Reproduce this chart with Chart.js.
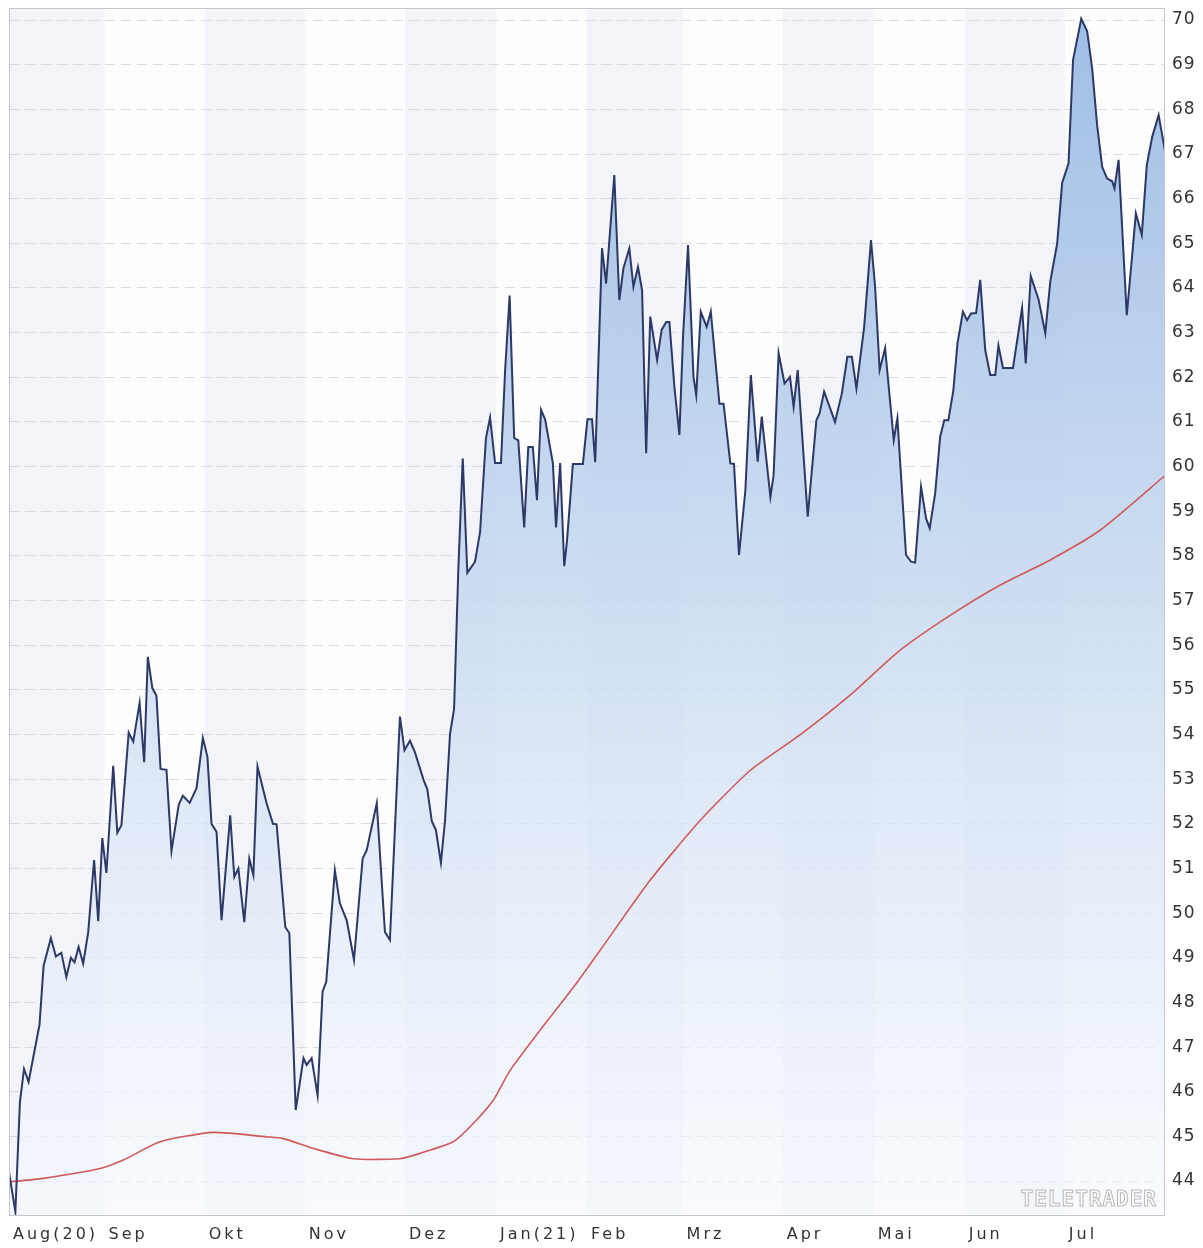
<!DOCTYPE html>
<html lang="de">
<head>
    <meta charset="UTF-8">
    <title>Kursverlauf Aug(20) - Jul(21)</title>
    <style>
        body {
            margin: 0;
            padding: 0;
            background-color: #ffffff;
        }

        canvas {
            display: block;
        }
    </style>
</head>
<body>
    <canvas id="priceChart" width="1203" height="1248" style="width:1203px;height:1248px"></canvas>

    <script src="https://cdn.jsdelivr.net/npm/chart.js@4"></script>
    <script>
        // x values are trading days counted from the first day in August 2020
        const monthStarts = [0, 21, 43, 65, 87, 107, 127, 148, 170, 190, 210, 232];
        const monthLabels = ['Aug(20)', 'Sep', 'Okt', 'Nov', 'Dez', 'Jan(21)', 'Feb', 'Mrz', 'Apr', 'Mai', 'Jun', 'Jul'];
        const lastDay = 254;

        const priceDays = [
            0, 1.4, 2.4, 3.3, 4.3, 6.7, 7.6, 9.2, 10.3, 11.5,
            12.6, 13.6, 14.4, 15.3, 16.3, 17.4, 18.7, 19.6, 20.5, 21.4,
            22.9, 23.8, 24.7, 26.3, 27.3, 28.7, 29.7, 30.5, 31.5, 32.4,
            33.3, 34.6, 35.7, 37.3, 38.2, 39.7, 41.2, 42.6, 43.6, 44.5,
            45.6, 46.7, 48.6, 49.5, 50.4, 51.7, 52.8, 53.7, 54.6, 56.6,
            58.0, 58.8, 60.7, 61.6, 63.0, 64.7, 65.4, 66.5, 67.8, 68.9,
            69.7, 71.6, 72.7, 74.2, 75.8, 77.7, 78.6, 80.8, 82.6, 83.7,
            85.9, 86.9, 88.1, 89.2, 91.1, 91.9, 92.9, 93.8, 94.9, 95.8,
            96.9, 97.8, 98.7, 99.7, 100.7, 102.4, 103.5, 104.8, 105.7, 106.8,
            108.1, 109.0, 110.0, 111.0, 111.9, 113.2, 114.1, 115.1, 116.0, 116.9,
            117.8, 119.5, 120.2, 121.1, 122.0, 122.6, 123.9, 126.1, 127.1, 128.1,
            128.8, 130.3, 131.2, 133.0, 134.1, 135.0, 136.3, 137.2, 138.2, 139.1,
            140.0, 140.9, 142.4, 143.4, 144.4, 145.1, 146.2, 147.3, 148.1, 149.2,
            150.4, 151.0, 152.0, 153.3, 154.2, 156.1, 157.0, 158.5, 159.3, 160.4,
            161.8, 163.0, 164.5, 165.4, 167.3, 168.0, 169.1, 170.4, 171.6, 172.4,
            173.3, 175.5, 177.4, 178.1, 179.1, 181.5, 183.0, 184.2, 185.2, 186.2,
            187.9, 189.4, 190.3, 191.3, 192.5, 194.4, 195.2, 197.1, 198.2, 199.1,
            200.4, 201.5, 202.3, 203.5, 204.6, 205.5, 206.4, 207.5, 208.4, 209.6,
            210.5, 211.4, 212.5, 213.4, 214.5, 215.6, 216.7, 217.4, 218.4, 220.6,
            222.6, 223.4, 224.5, 226.2, 227.7, 228.8, 230.3, 231.4, 232.8, 233.8,
            235.6, 236.9, 238.0, 239.1, 240.2, 241.3, 242.4, 242.9, 243.8, 245.6,
            246.8, 247.6, 248.9, 250.0, 251.2, 252.6, 254
        ];
        const priceValues = [
            44.2, 43.31, 45.77, 46.51, 46.22, 47.5, 48.82, 49.44, 49.03, 49.11,
            48.57, 49.0, 48.9, 49.24, 48.87, 49.57, 51.19, 49.82, 51.68, 50.9,
            53.3, 51.8, 51.97, 54.04, 53.84, 54.71, 53.38, 55.74, 55.04, 54.87,
            53.23, 53.21, 51.39, 52.43, 52.63, 52.47, 52.8, 53.92, 53.5, 52.0,
            51.82, 49.84, 52.19, 50.81, 51.0, 49.8, 51.22, 50.85, 53.28, 52.46,
            52.0, 51.99, 49.69, 49.55, 45.59, 46.75, 46.6, 46.75, 45.92, 48.24,
            48.46, 50.96, 50.22, 49.84, 48.95, 51.22, 51.41, 52.46, 49.58, 49.4,
            54.4, 53.65, 53.86, 53.6, 52.98, 52.78, 52.06, 51.86, 51.13, 52.06,
            54.01, 54.58, 57.62, 60.18, 57.62, 57.87, 58.53, 60.64, 61.1, 60.08,
            60.08, 62.14, 63.83, 60.64, 60.59, 58.64, 60.44, 60.44, 59.25, 61.27,
            61.06, 60.08, 58.64, 60.08, 57.77, 58.33, 60.06, 60.06, 61.06, 61.06,
            60.1, 64.89, 64.1, 66.53, 63.73, 64.44, 64.89, 64.03, 64.47, 63.95,
            60.3, 63.36, 62.39, 63.06, 63.24, 63.24, 61.79, 60.71, 62.91, 64.96,
            62.01, 61.6, 63.47, 63.13, 63.47, 61.41, 61.41, 60.07, 60.06, 58.02,
            59.47, 62.05, 60.11, 61.12, 59.32, 59.81, 62.54, 61.86, 62.01, 61.34,
            62.16, 58.88, 61.04, 61.19, 61.68, 61.0, 61.64, 62.46, 62.46, 61.75,
            63.13, 65.07, 64.03, 62.16, 62.65, 60.59, 61.08, 58.02, 57.87, 57.85,
            59.55, 58.84, 58.62, 59.4, 60.67, 61.04, 61.04, 61.71, 62.76, 63.47,
            63.28, 63.43, 63.44, 64.18, 62.61, 62.05, 62.05, 62.71, 62.21, 62.21,
            63.55, 62.31, 64.27, 63.75, 62.99, 64.15, 64.99, 66.35, 66.79, 69.11,
            70.03, 69.75, 68.91, 67.63, 66.71, 66.45, 66.39, 66.23, 66.87, 63.39,
            64.75, 65.67, 65.19, 66.75, 67.39, 67.87, 67.07
        ];

        // moving average (red line)
        const avgDays = [0, 7.5, 20, 25.1, 33.2, 44.9, 56.6, 60.3, 66.9, 75.7,
            85.9, 90.3, 97.6, 102, 106.4, 110.1, 116.7, 124.4, 129.9, 140.9,
            151.9, 162.9, 173.8, 184.8, 195.8, 206.8, 217.8, 228.8, 239.8, 254];
        const avgValues = [43.98, 44.06, 44.28, 44.47, 44.88, 45.09, 44.99, 44.95, 44.73, 44.5,
            44.5, 44.62, 44.88, 45.29, 45.81, 46.48, 47.38, 48.39, 49.17, 50.74,
            52.08, 53.2, 53.99, 54.88, 55.89, 56.67, 57.35, 57.91, 58.58, 59.8];

        const yMin = 43.24;
        const yMax = 70.27;

        function toPoints(xs, ys) {
            return xs.map((x, i) => ({ x: x, y: ys[i] }));
        }

        // alternating month bands, frame and letter spacing of the labels
        const backdrop = {
            id: 'backdrop',
            beforeDraw(chart) {
                const { ctx, chartArea: a, scales: { x } } = chart;
                ctx.save();
                ctx.fillStyle = '#fdfdfe';
                ctx.fillRect(a.left, a.top, a.right - a.left, a.bottom - a.top);
                ctx.fillStyle = '#f3f4f9';
                for (let i = 0; i < monthStarts.length; i += 2) {
                    const x0 = x.getPixelForValue(monthStarts[i]);
                    const x1 = x.getPixelForValue(i + 1 < monthStarts.length ? monthStarts[i + 1] : lastDay);
                    ctx.fillRect(x0, a.top, x1 - x0, a.bottom - a.top);
                }
                ctx.restore();
                ctx.letterSpacing = '3px';
            },
            afterDatasetsDraw(chart) {
                chart.ctx.letterSpacing = '1px';
            },
            afterDraw(chart) {
                const { ctx, chartArea: a } = chart;
                ctx.save();
                ctx.strokeStyle = '#c6c6ce';
                ctx.lineWidth = 1;
                ctx.strokeRect(a.left + 0.5, a.top + 0.5, a.right - a.left - 1, a.bottom - a.top);

                // watermark
                ctx.letterSpacing = '1px';
                ctx.font = 'bold 21px "DejaVu Sans Mono"';
                ctx.textAlign = 'right';
                ctx.textBaseline = 'alphabetic';
                ctx.fillStyle = '#fbfbfb';
                ctx.strokeStyle = '#b9b9b9';
                ctx.lineWidth = 1;
                ctx.fillText('TELETRADER', a.right - 8, a.bottom - 9);
                ctx.strokeText('TELETRADER', a.right - 8, a.bottom - 9);
                ctx.restore();
                ctx.letterSpacing = '0px';
            }
        };

        const chart = new Chart(document.getElementById('priceChart'), {
            type: 'line',
            data: {
                datasets: [{
                    label: 'Kurs',
                    data: toPoints(priceDays, priceValues),
                    borderColor: '#2c3866',
                    borderWidth: 2,
                    pointRadius: 0,
                    tension: 0,
                    fill: 'start',
                    backgroundColor: function(context) {
                        const area = context.chart.chartArea;
                        if (!area) return 'rgba(190,210,235,0.8)';
                        const g = context.chart.ctx.createLinearGradient(0, area.top, 0, area.bottom);
                        g.addColorStop(0, 'rgba(150,184,226,0.92)');
                        g.addColorStop(0.5, 'rgba(200,218,240,0.85)');
                        g.addColorStop(1, 'rgba(246,249,254,0.6)');
                        return g;
                    }
                }, {
                    label: 'Durchschnitt',
                    data: toPoints(avgDays, avgValues),
                    borderColor: '#d05a5a',
                    borderWidth: 1.6,
                    pointRadius: 0,
                    tension: 0.2,
                    fill: false
                }]
            },
            options: {
                responsive: false,
                devicePixelRatio: 1,
                animation: false,
                layout: {
                    padding: { left: 9, top: 8, right: 0, bottom: 0 }
                },
                scales: {
                    x: {
                        type: 'linear',
                        min: 0,
                        max: lastDay,
                        grid: { display: false },
                        border: { display: false },
                        afterBuildTicks: function(scale) {
                            scale.ticks = monthStarts.map(v => ({ value: v }));
                        },
                        afterFit: function(scale) {
                            scale.height = 33;
                            scale.paddingLeft = 0;
                            scale.paddingRight = 0;
                        },
                        ticks: {
                            align: 'start',
                            labelOffset: 4,
                            padding: 2,
                            autoSkip: false,
                            maxRotation: 0,
                            color: '#333333',
                            font: { family: 'DejaVu Sans', size: 16 },
                            callback: (value, i) => monthLabels[i]
                        }
                    },
                    y: {
                        position: 'right',
                        min: yMin,
                        max: yMax,
                        afterFit: function(scale) {
                            scale.width = 38;
                            scale.paddingTop = 0;
                            scale.paddingBottom = 0;
                        },
                        grid: {
                            color: 'rgba(196,196,210,0.6)',
                            lineWidth: 1,
                            drawTicks: false
                        },
                        border: { display: false, dash: [10, 6] },
                        ticks: {
                            stepSize: 1,
                            includeBounds: false,
                            padding: 7,
                            z: 1,
                            color: '#333333',
                            font: { family: 'DejaVu Sans', size: 17 }
                        }
                    }
                },
                plugins: {
                    legend: { display: false },
                    tooltip: { enabled: false },
                    filler: { drawTime: 'beforeDatasetsDraw' }
                }
            },
            plugins: [backdrop]
        });
    </script>
</body>
</html>
